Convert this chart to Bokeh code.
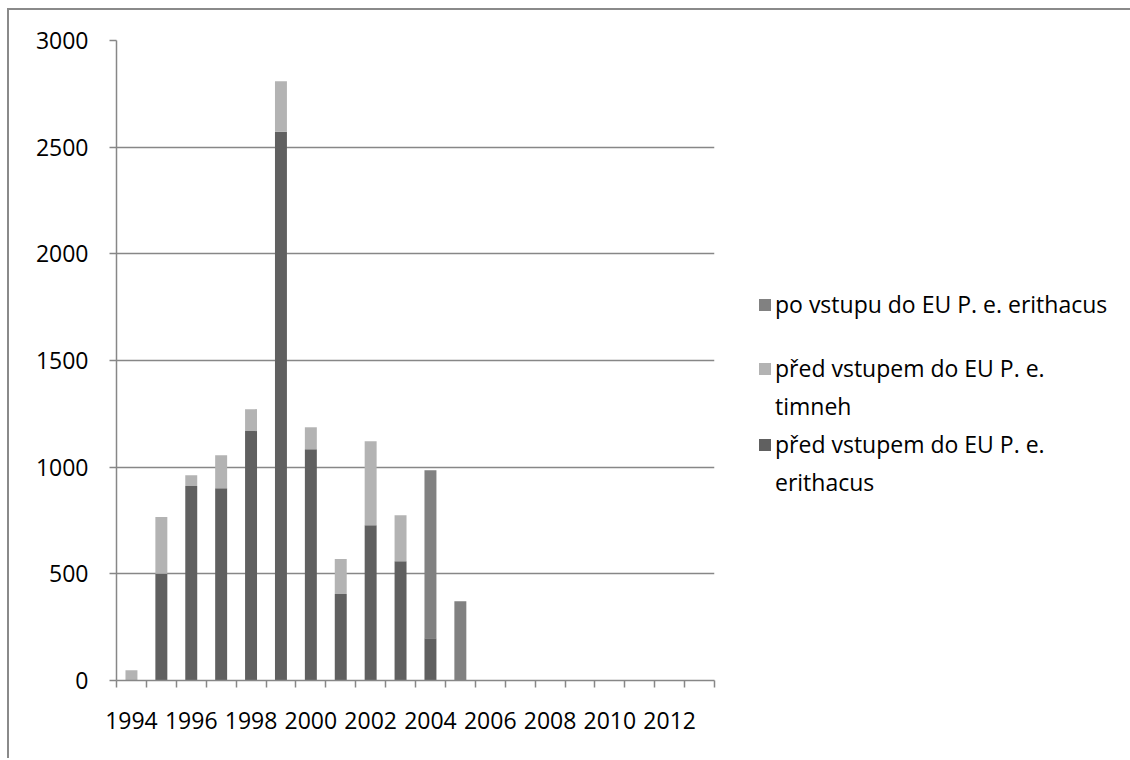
from bokeh.plotting import figure
from bokeh.models import ColumnDataSource, Range1d, FixedTicker, Legend, LegendItem
from bokeh.embed import file_html
from bokeh.resources import INLINE

years = list(range(1994, 2014))
pre_erithacus = [0, 500, 912, 901, 1169, 2572, 1084, 405, 728, 559, 198, 0, 0, 0, 0, 0, 0, 0, 0, 0]
pre_timneh = [48, 266, 50, 155, 103, 237, 103, 164, 394, 216, 0, 0, 0, 0, 0, 0, 0, 0, 0, 0]
post_erithacus = [0, 0, 0, 0, 0, 0, 0, 0, 0, 0, 788, 372, 0, 0, 0, 0, 0, 0, 0, 0]
series_keys = ["pre_erithacus", "pre_timneh", "post_erithacus"]
# legend text, split into the lines shown in the reference legend
series_lines = [["před vstupem do EU P. e.", "erithacus"],
                ["před vstupem do EU P. e.", "timneh"],
                ["po vstupu do EU P. e. erithacus"]]
colors = ["#606060", "#b3b3b3", "#818181"]
x_labels = [str(y) for y in range(1994, 2013, 2)]
y_ticks = [0, 500, 1000, 1500, 2000, 2500, 3000]

FONT = "Open Sans"
GRID = "#878787"

source = ColumnDataSource(dict(year=years, pre_erithacus=pre_erithacus,
                               pre_timneh=pre_timneh, post_erithacus=post_erithacus))

p = figure(frame_width=598, frame_height=640, output_backend="svg", toolbar_location=None,
           x_range=Range1d(years[0] - 0.5, years[-1] + 0.5), y_range=Range1d(0, 3000),
           min_border_left=107, min_border_right=410, min_border_top=30, min_border_bottom=78)
p.styles = {"border-left": "2px solid #8a8a8a", "border-top": "2px solid #8a8a8a",
            "margin-top": "8px", "margin-left": "7px"}
p.outline_line_color = None
p.background_fill_color = "white"

renderers = p.vbar_stack(series_keys, x="year", width=0.4, color=colors, source=source,
                         line_color=None)
# invisible renderer used for legend rows that carry only text
blank = p.vbar(x=[], top=[], width=0.4, fill_alpha=0, line_alpha=0)

# axes
p.xgrid.grid_line_color = None
p.ygrid.grid_line_color = GRID
p.ygrid.grid_line_width = 1.5
p.yaxis.ticker = FixedTicker(ticks=y_ticks)
p.yaxis.axis_line_color = GRID
p.yaxis.axis_line_width = 1.5
p.yaxis.major_tick_line_color = GRID
p.yaxis.major_tick_line_width = 1.5
p.yaxis.major_tick_out = 7
p.yaxis.major_tick_in = 0
p.yaxis.minor_tick_line_color = None
p.yaxis.major_label_standoff = 21
p.yaxis.major_label_text_font = FONT
p.yaxis.major_label_text_font_size = "23px"
p.yaxis.major_label_text_color = "black"

p.xaxis.ticker = FixedTicker(ticks=[int(s) for s in x_labels],
                             minor_ticks=[y - 0.5 for y in years] + [years[-1] + 0.5])
p.xaxis.axis_line_color = GRID
p.xaxis.axis_line_width = 1.5
p.xaxis.major_tick_line_color = None
p.xaxis.major_tick_out = 7
p.xaxis.major_tick_in = 0
p.xaxis.minor_tick_line_color = GRID
p.xaxis.minor_tick_line_width = 1.5
p.xaxis.minor_tick_out = 7
p.xaxis.minor_tick_in = 0
p.xaxis.major_label_standoff = 24
p.xaxis.major_label_text_font = FONT
p.xaxis.major_label_text_font_size = "23px"
p.xaxis.major_label_text_color = "black"

items = []
for n, i in enumerate((2, 1, 0)):
    lines = series_lines[i]
    items.append(LegendItem(label=lines[0], renderers=[renderers[i]]))
    for extra in lines[1:]:
        items.append(LegendItem(label=extra, renderers=[blank]))
    if n == 0:
        items.append(LegendItem(label=" ", renderers=[blank]))

legend = Legend(items=items, location=(43, 182), glyph_width=15, glyph_height=15,
                label_standoff=3, spacing=6, padding=0, margin=0, label_height=20,
                border_line_color=None, background_fill_alpha=0,
                label_text_font=FONT, label_text_font_size="23px",
                label_text_color="black")
p.add_layout(legend, "right")

open("out.html", "w").write(file_html(p, INLINE))
